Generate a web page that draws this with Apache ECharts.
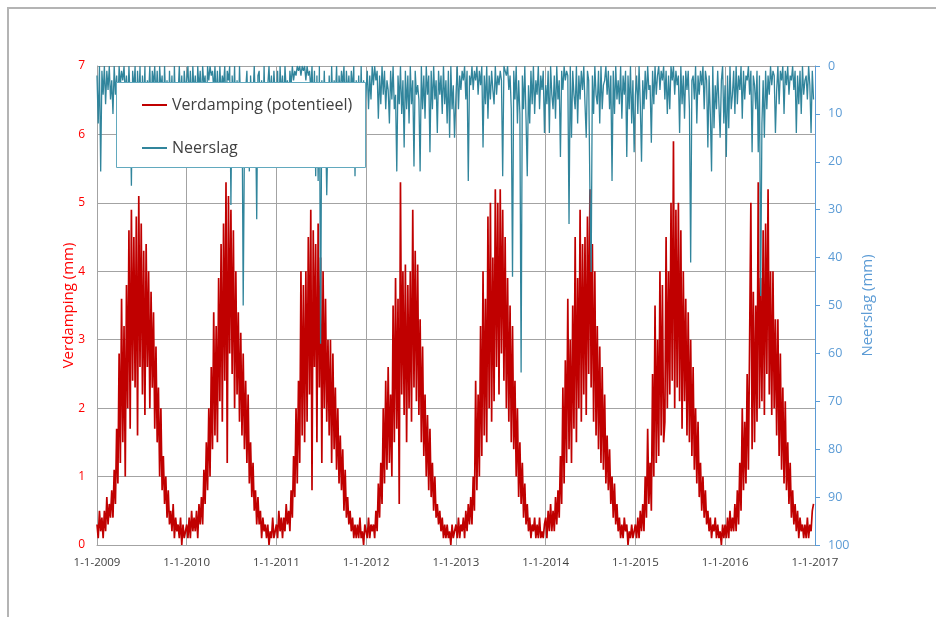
<!DOCTYPE html>
<html><head><meta charset="utf-8">
<script src="https://cdn.jsdelivr.net/npm/echarts@6/dist/echarts.min.js"></script>
<style>
html,body{margin:0;padding:0;background:#fff;overflow:hidden;}
#chart{position:absolute;left:0;top:0;width:936px;height:617px;}
#frame{position:absolute;left:7px;top:7px;width:1000px;height:700px;border-left:2px solid #b4b4b4;border-top:2px solid #b4b4b4;pointer-events:none;}
</style></head><body>
<div id="chart"></div><div id="frame"></div>
<script>
// Years shown; each yearly array holds one value per 5 days (73 values)
const years = [2009, 2010, 2011, 2012, 2013, 2014, 2015, 2016];

// Verdamping (potentieel), mm
const evap2009 = [0.3,0.1,0.5,0.2,0.4,0.1, 0.5,0.2,0.7,0.3,0.6,0.4, 0.8,0.4,1.1,0.6,1.7,0.9, 2.8,1.2,3.6,1.5,3.2,1.0, 3.8,2.0,4.6,1.7,4.9,2.4, 4.5,2.3,4.8,1.6,5.1,2.6, 4.7,2.2,4.3,1.9,4.4,2.6, 4.0,2.0,3.7,2.3,3.4,1.7, 2.9,1.5,2.3,1.0,2.0,0.8, 1.3,0.6,1.0,0.4,0.8,0.3, 0.5,0.2,0.6,0.1,0.4,0.2, 0.3,0.1,0.4,0.0,0.3,0.1,0.2];
const evap2010 = [0.3,0.1,0.4,0.1,0.5,0.2, 0.4,0.2,0.5,0.1,0.6,0.3, 0.7,0.3,1.1,0.6,1.5,0.8, 2.0,1.0,2.6,1.4,3.4,1.6, 3.2,1.5,3.9,2.1,4.4,1.8, 4.7,2.4,5.3,1.2,5.1,2.8, 4.9,2.5,4.6,2.0,4.0,2.2, 3.4,1.8,3.1,1.6,2.8,1.4, 2.4,1.2,2.2,0.9,1.5,0.7, 1.2,0.5,0.8,0.3,0.7,0.3, 0.5,0.1,0.4,0.2,0.3,0.1, 0.3,0.0,0.2,0.1,0.4,0.1,0.2];
const evap2011 = [0.3,0.1,0.5,0.2,0.4,0.1, 0.4,0.2,0.6,0.3,0.5,0.2, 0.8,0.4,1.3,0.7,2.0,0.9, 2.4,1.2,4.0,1.6,3.8,1.5, 4.0,1.8,4.5,2.2,4.9,0.8, 4.6,2.6,4.4,1.5,4.7,2.3, 4.2,1.2,4.0,2.0,3.6,1.8, 3.0,1.6,3.0,1.2,2.8,1.4, 2.3,1.1,2.0,0.9,1.6,0.8, 1.4,0.5,1.1,0.4,0.7,0.3, 0.5,0.2,0.4,0.1,0.3,0.1, 0.3,0.1,0.4,0.1,0.2,0.0,0.3];
const evap2012 = [0.2,0.1,0.4,0.1,0.3,0.2, 0.3,0.1,0.5,0.2,0.9,0.4, 1.2,0.6,2.0,0.9,2.4,1.1, 2.6,1.2,2.2,1.0,3.5,1.5, 3.9,1.7,3.6,0.6,5.3,2.2, 4.0,1.9,4.1,1.5,3.8,2.0, 4.0,1.8,4.9,2.3,4.3,2.1, 4.1,1.9,3.3,1.5,2.9,1.3, 2.2,1.0,1.9,0.8,1.7,0.7, 1.2,0.5,1.0,0.4,0.6,0.3, 0.5,0.2,0.4,0.1,0.3,0.1, 0.3,0.1,0.2,0.0,0.3,0.1,0.2];
const evap2013 = [0.3,0.1,0.4,0.1,0.3,0.2, 0.4,0.1,0.5,0.2,0.6,0.3, 0.7,0.3,1.0,0.5,2.4,0.8, 2.2,1.0,3.2,1.3,4.0,1.6, 3.6,1.5,4.8,2.0,5.0,1.8, 4.2,2.1,5.2,2.6,5.0,2.2, 5.2,2.8,4.9,2.4,4.5,2.0, 3.9,1.8,3.5,1.5,3.2,1.4, 2.4,1.0,2.0,0.7,1.5,0.6, 1.2,0.4,0.9,0.3,0.6,0.2, 0.4,0.1,0.3,0.2,0.4,0.1, 0.3,0.1,0.4,0.1,0.2,0.1,0.3];
const evap2014 = [0.4,0.1,0.5,0.2,0.6,0.2, 0.5,0.2,0.7,0.3,0.8,0.4, 1.3,0.6,2.3,0.9,2.7,1.2, 3.6,1.4,3.0,1.2,3.5,1.7, 4.5,1.5,3.9,2.0,4.9,1.8, 4.4,2.2,4.5,1.9,4.8,2.5, 5.2,2.3,4.4,1.8,4.0,1.6, 3.2,1.4,2.9,1.2,2.6,1.1, 2.2,0.9,1.6,0.8,1.4,0.6, 1.0,0.4,0.9,0.3,0.6,0.2, 0.4,0.1,0.3,0.1,0.4,0.2, 0.3,0.0,0.2,0.1,0.3,0.1,0.2];
const evap2015 = [0.3,0.1,0.4,0.1,0.5,0.2, 0.6,0.2,1.0,0.4,1.7,0.6, 1.2,0.5,2.5,1.0,3.5,1.2, 3.0,1.3,4.0,1.6,3.8,1.5, 1.8,4.5,2.0,4.0,2.2,5.0, 2.4,5.9,2.0,4.9,2.3,5.0, 2.1,4.6,1.7,4.0,2.1,3.6, 1.6,3.4,1.5,3.0,1.3,2.6, 1.1,2.0,0.9,1.8,0.7,1.2, 0.5,1.0,0.4,0.8,0.3,0.5, 0.2,0.4,0.1,0.3,0.2,0.4, 0.1,0.3,0.1,0.2,0.0,0.3,0.1];
const evap2016 = [0.3,0.1,0.4,0.1,0.5,0.2, 0.4,0.2,0.6,0.2,0.8,0.3, 1.2,0.5,2.0,0.8,1.8,0.9, 2.5,1.1,3.0,5.0,1.4,3.7, 1.5,3.5,1.8,5.3,2.0,3.9, 2.1,4.6,1.9,4.7,2.5,5.2, 2.2,4.0,1.9,4.0,2.0,3.3, 1.6,3.3,1.3,2.8,1.1,2.3, 0.9,2.1,0.8,1.5,0.6,1.2, 0.4,0.8,0.3,0.6,0.2,0.5, 0.1,0.4,0.2,0.3,0.1,0.3, 0.1,0.4,0.1,0.3,0.2,0.5,0.6];

// Neerslag, mm
const prec2009 = [2,12,0,22,1,6, 0,8,1,5,0,7, 3,10,0,6,2,9, 0,4,1,3,0,6, 2,9,0,7,25,1, 5,0,12,1,8,0, 14,2,9,0,18,3, 6,0,11,1,4,0, 7,1,10,0,5,2, 12,0,8,3,15,1, 9,2,13,0,10,4, 6,0,8,2,11,1,5];
const prec2010 = [3,0,7,1,9,0, 6,2,10,0,5,1, 8,0,4,2,11,0, 3,0,2,1,5,0, 7,1,9,0,6,2, 4,0,10,1,3,0, 29,2,8,0,14,3, 12,0,9,4,50,16, 5,1,10,22,2,8, 6,0,9,32,2,1, 11,3,14,0,12,5, 4,0,7,2,9,1,6];
const prec2011 = [8,1,12,0,6,2, 9,0,5,3,10,1, 4,0,3,1,2,0, 1,0,2,0,1,0, 3,0,2,1,5,0, 9,1,23,2,24,0, 58,3,10,1,12,27, 14,2,11,0,9,3, 7,0,10,2,6,1, 4,0,9,1,6,2, 8,1,5,0,23,3, 10,2,14,0,12,3,9];
const prec2012 = [5,1,9,2,7,0, 4,0,3,1,11,2, 8,0,6,1,9,3, 5,12,1,7,0,9, 6,22,2,8,0,10, 3,17,1,9,2,12, 0,8,3,21,1,6, 4,7,22,0,9,2, 11,0,6,2,18,1, 9,0,7,3,14,1, 6,2,10,0,8,3, 12,1,15,0,9,4,15];
const prec2013 = [6,0,9,2,5,1, 3,0,7,1,24,2, 4,0,5,1,3,0, 6,1,4,0,17,2, 8,0,11,2,7,1, 5,8,0,6,2,4, 1,3,23,0,1,2, 0,5,2,9,44,1, 7,0,12,3,10,64, 2,9,0,11,23,4, 12,1,8,0,10,3, 6,0,9,2,5,1,14];
const prec2014 = [4,8,1,14,0,6, 9,2,11,0,7,3, 19,1,5,0,3,1, 2,33,0,15,1,6, 9,0,12,2,7,1, 5,0,8,15,1,3, 26,43,2,10,0,6, 8,1,12,0,9,4, 3,0,6,1,9,2, 24,1,10,0,7,3, 8,0,11,2,6,1, 19,2,9,0,12,3,18];
const prec2015 = [6,2,10,0,8,20, 3,9,1,7,0,5, 4,16,1,8,0,6, 2,0,5,1,3,0, 7,1,10,2,9,0, 3,0,6,1,4,2, 14,0,8,2,11,1, 5,1,9,41,3,2, 7,0,12,2,6,1, 4,0,9,1,3,17, 2,10,22,0,13,4, 9,1,8,15,3,0,12];
const prec2016 = [4,19,2,13,0,9, 6,1,10,0,8,2, 5,0,11,1,7,2, 3,0,6,1,18,2, 4,9,1,18,2,48, 12,3,15,1,9,2, 6,0,4,1,2,14, 5,0,8,1,3,0, 10,1,4,0,6,2, 3,0,5,1,14,2, 8,1,10,0,6,3, 2,7,0,4,14,1,7];

const evapByYear = [evap2009, evap2010, evap2011, evap2012, evap2013, evap2014, evap2015, evap2016];
const precByYear = [prec2009, prec2010, prec2011, prec2012, prec2013, prec2014, prec2015, prec2016];
const STEP_DAYS = 5;

function toPoints(byYear) {
  const out = [];
  years.forEach((y, k) => {
    byYear[k].forEach((v, i) => {
      out.push([new Date(y, 0, 1 + STEP_DAYS * i).getTime(), v]);
    });
  });
  return out;
}
const evapData = toPoints(evapByYear);
const precData = toPoints(precByYear);

const FONT = 'Open Sans';
const GRID = '#a3a3a3';
const RED = '#C00000';
const TEAL = '#31859C';
const BLUE = '#5B9BD5';

const chart = echarts.init(document.getElementById('chart'), null, {renderer: 'canvas'});
chart.setOption({
  animation: false,
  backgroundColor: '#ffffff',
  textStyle: {fontFamily: FONT},
  grid: {left: 97, top: 66, right: 121, bottom: 72, containLabel: false, outerBoundsMode: 'none'},
  xAxis: {
    type: 'time',
    min: new Date(years[0], 0, 1).getTime(),
    max: new Date(years[years.length - 1] + 1, 0, 1).getTime(),
    splitNumber: 8,
    minInterval: 365 * 864e5,
    axisLine: {show: true, lineStyle: {color: GRID, width: 1}},
    axisTick: {show: false},
    splitLine: {show: true, lineStyle: {color: GRID, width: 1}},
    axisLabel: {
      color: '#404040', fontSize: 11.5, fontFamily: FONT, margin: 12,
      showMinLabel: true, showMaxLabel: true, hideOverlap: false,
      formatter: function (v) { const d = new Date(v); return d.getDate() + '-' + (d.getMonth() + 1) + '-' + d.getFullYear(); }
    }
  },
  yAxis: [
    {
      type: 'value', position: 'left', min: 0, max: 7, interval: 1,
      name: 'Verdamping (mm)', nameLocation: 'middle', nameGap: 21, nameRotate: 90, nameMoveOverlap: false,
      nameTextStyle: {color: '#FF0000', fontSize: 15, fontFamily: FONT},
      axisLine: {show: true, lineStyle: {color: GRID}},
      axisTick: {show: false},
      axisLabel: {color: '#FF0000', fontSize: 12, margin: 12, fontFamily: FONT},
      splitLine: {show: true, lineStyle: {color: GRID, width: 1}}
    },
    {
      type: 'value', position: 'right', min: 0, max: 100, interval: 10, inverse: true,
      name: 'Neerslag (mm)', nameLocation: 'middle', nameGap: 44, nameRotate: 90,
      nameTextStyle: {color: BLUE, fontSize: 15, fontFamily: FONT},
      axisLine: {show: true, lineStyle: {color: BLUE}},
      axisTick: {show: true, length: 5, lineStyle: {color: BLUE}},
      axisLabel: {color: BLUE, fontSize: 12.5, margin: 13, fontFamily: FONT},
      splitLine: {show: false}
    }
  ],
  legend: {
    orient: 'vertical', left: 137, top: 90, itemWidth: 25, itemHeight: 2, itemGap: 23,
    icon: 'rect', selectedMode: false, z: 60,
    textStyle: {color: '#404040', fontSize: 16, lineHeight: 20, fontFamily: FONT},
    data: ['Verdamping (potentieel)', 'Neerslag']
  },
  graphic: [{
    type: 'rect', z: 50,
    shape: {x: 116.5, y: 82.5, width: 249, height: 85},
    style: {fill: '#ffffff', stroke: '#62A9BE', lineWidth: 1}
  }],
  series: [
    {
      name: 'Verdamping (potentieel)', type: 'line', yAxisIndex: 0, data: evapData,
      symbol: 'none', showSymbol: false, z: 2,
      lineStyle: {color: RED, width: 1.7}, itemStyle: {color: RED}
    },
    {
      name: 'Neerslag', type: 'line', yAxisIndex: 1, data: precData,
      symbol: 'none', showSymbol: false, z: 3,
      lineStyle: {color: TEAL, width: 1.3}, itemStyle: {color: TEAL}
    }
  ]
});
</script>
</body></html>
